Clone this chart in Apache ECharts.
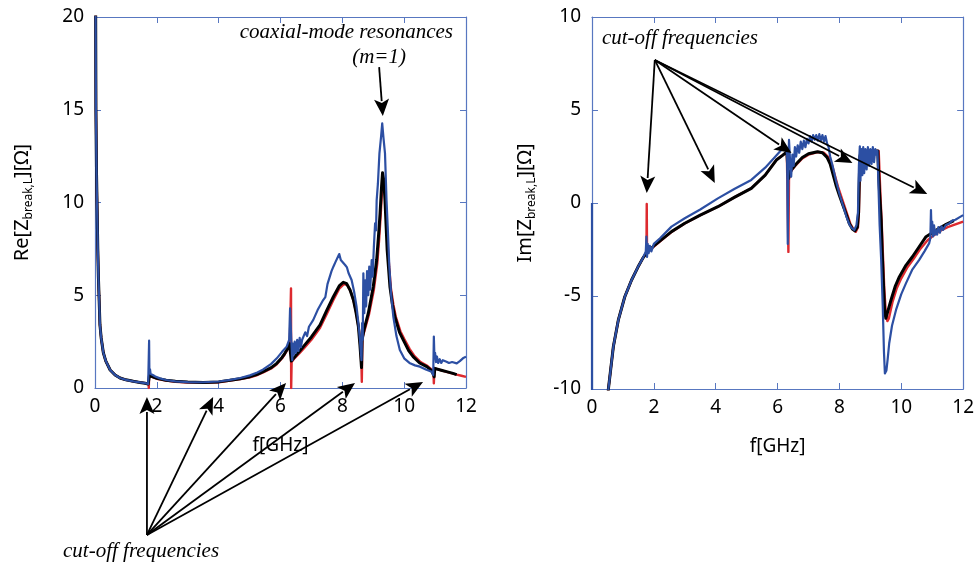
<!DOCTYPE html>
<html><head><meta charset="utf-8">
<script src="https://cdn.jsdelivr.net/npm/echarts@6/dist/echarts.min.js"></script>
<style>html,body{margin:0;padding:0;background:#fff}#c{width:977px;height:564px}</style>
</head><body><div id="c"></div>
<script>
// ---------- data ----------
const xTicks = [0, 2, 4, 6, 8, 10, 12];
const reTicks = [0, 5, 10, 15, 20];
const imTicks = [-10, -5, 0, 5, 10];

const redRe = [[0.02,21],[0.03,15],[0.05,11.5],[0.07,9.6],[0.09,7.5],[0.11,6.0],[0.16,3.4],[0.2,2.7],[0.27,1.9],[0.35,1.45],[0.49,0.97],[0.65,0.7],[0.81,0.54],[1.0,0.44],[1.24,0.36],[1.45,0.3],[1.62,0.26],[1.73,0.22],[1.74,0.0],[1.75,0.66],[1.85,0.6],[2.0,0.5],[2.3,0.4],[2.6,0.34],[3.0,0.3],[3.5,0.29],[4.0,0.31],[4.37,0.4],[4.7,0.48],[5.01,0.58],[5.25,0.7],[5.44,0.84],[5.7,1.05],[5.88,1.28],[6.05,1.6],[6.14,1.82],[6.22,2.05],[6.3,2.35],[6.33,2.4],[6.34,5.37],[6.345,0.0],[6.36,1.4],[6.45,1.6],[6.6,1.85],[6.74,2.1],[7.0,2.6],[7.28,3.25],[7.5,4.0],[7.71,4.75],[7.9,5.35],[8.05,5.6],[8.16,5.55],[8.27,5.2],[8.38,4.6],[8.46,3.95],[8.54,3.1],[8.59,2.1],[8.62,1.1],[8.63,0.34],[8.65,2.7],[8.72,3.1],[8.86,3.95],[9.02,5.3],[9.13,6.7],[9.19,8.0],[9.24,9.3],[9.29,10.8],[9.32,11.3],[9.36,11.0],[9.41,9.8],[9.48,7.3],[9.57,5.4],[9.65,4.5],[9.73,3.84],[9.88,3.05],[10.0,2.65],[10.18,2.1],[10.32,1.75],[10.53,1.4],[10.76,1.18],[10.9,0.98],[10.95,0.8],[10.96,0.25],[10.98,1.06],[11.2,0.95],[11.37,0.87],[11.55,0.79],[11.7,0.72],[11.85,0.66],[12,0.6]];

const blackRe = [[0.02,21],[0.03,15],[0.05,11.5],[0.07,9.6],[0.09,7.5],[0.11,6.0],[0.16,3.4],[0.2,2.7],[0.27,1.9],[0.35,1.45],[0.49,0.97],[0.65,0.7],[0.81,0.54],[1.0,0.44],[1.24,0.36],[1.45,0.3],[1.62,0.26],[1.72,0.22],[1.74,0.2],[1.76,0.68],[1.85,0.62],[2.0,0.52],[2.3,0.42],[2.6,0.36],[3.0,0.32],[3.5,0.3],[4.0,0.33],[4.37,0.42],[4.7,0.5],[5.01,0.61],[5.25,0.74],[5.44,0.88],[5.7,1.1],[5.88,1.33],[6.05,1.65],[6.14,1.87],[6.22,2.1],[6.29,2.41],[6.33,2.35],[6.35,1.45],[6.45,1.65],[6.6,1.95],[6.74,2.23],[7.0,2.75],[7.28,3.4],[7.5,4.2],[7.71,4.92],[7.9,5.5],[8.03,5.7],[8.14,5.62],[8.25,5.28],[8.36,4.74],[8.44,4.1],[8.52,3.3],[8.57,2.3],[8.6,1.6],[8.62,1.1],[8.64,2.6],[8.7,3.13],[8.84,4.03],[9.0,5.46],[9.11,6.9],[9.17,8.2],[9.22,9.4],[9.27,10.9],[9.3,11.6],[9.34,11.2],[9.38,10.1],[9.45,7.44],[9.54,5.46],[9.62,4.5],[9.7,3.84],[9.85,3.0],[9.97,2.59],[10.15,2.0],[10.29,1.69],[10.5,1.35],[10.73,1.15],[10.88,0.95],[10.94,0.75],[10.97,0.6],[10.99,1.06],[11.2,0.96],[11.37,0.88],[11.55,0.8],[11.7,0.72]];

const blueRe = [[0.01,21],[0.02,20],[0.03,15],[0.05,11.5],[0.07,9.6],[0.09,7.5],[0.11,6.0],[0.16,3.4],[0.2,2.7],[0.27,1.9],[0.35,1.45],[0.49,0.97],[0.65,0.7],[0.81,0.54],[1.0,0.44],[1.24,0.36],[1.45,0.3],[1.62,0.26],[1.72,0.22],[1.74,0.3],[1.75,2.55],[1.76,0.8],[1.78,1.0],[1.8,0.75],[1.83,0.85],[1.87,0.7],[1.95,0.62],[2.1,0.52],[2.3,0.43],[2.6,0.36],[3.0,0.32],[3.5,0.31],[4.0,0.35],[4.37,0.44],[4.7,0.54],[5.01,0.68],[5.25,0.84],[5.44,1.0],[5.7,1.3],[5.88,1.6],[6.05,1.95],[6.2,2.23],[6.28,2.6],[6.31,4.3],[6.34,3.0],[6.36,2.2],[6.38,1.5],[6.4,2.4],[6.43,1.8],[6.46,2.5],[6.5,1.9],[6.54,2.6],[6.58,2.0],[6.62,2.7],[6.66,2.2],[6.7,2.6],[6.74,2.59],[6.8,3.0],[6.86,2.8],[6.92,3.3],[6.98,3.2],[7.06,3.67],[7.12,3.6],[7.2,4.2],[7.26,4.1],[7.38,4.74],[7.45,4.9],[7.52,5.6],[7.58,5.5],[7.65,6.3],[7.71,6.54],[7.78,6.8],[7.83,6.7],[7.9,7.22],[7.95,6.9],[8.0,7.0],[8.09,6.63],[8.15,6.5],[8.2,6.2],[8.3,5.82],[8.38,5.2],[8.46,4.38],[8.52,3.5],[8.57,2.59],[8.6,1.9],[8.62,1.5],[8.64,3.5],[8.66,2.6],[8.68,6.18],[8.71,4.03],[8.74,5.8],[8.77,4.4],[8.8,6.3],[8.84,5.0],[8.87,6.54],[8.9,5.3],[8.95,6.9],[8.98,6.0],[9.02,7.6],[9.06,8.88],[9.09,8.5],[9.11,10.1],[9.15,11.0],[9.2,12.65],[9.25,13.5],[9.29,14.27],[9.33,13.5],[9.38,12.65],[9.43,10.1],[9.48,8.2],[9.52,6.54],[9.58,5.0],[9.65,3.84],[9.75,2.8],[9.86,2.05],[10.0,1.6],[10.19,1.33],[10.35,1.22],[10.51,1.15],[10.7,1.0],[10.89,0.88],[10.94,0.7],[10.96,2.77],[10.98,1.6],[11.0,1.9],[11.03,1.4],[11.06,1.7],[11.1,1.35],[11.15,1.55],[11.2,1.35],[11.25,1.5],[11.37,1.42],[11.45,1.35],[11.55,1.4],[11.7,1.33],[11.8,1.45],[11.9,1.6],[12,1.69]];

const redIm = [[0.5,-11],[0.53,-10],[0.69,-7.73],[0.85,-6.3],[1.06,-5.04],[1.28,-4.14],[1.49,-3.43],[1.65,-2.95],[1.76,-2.7],[1.77,-0.05],[1.78,-2.65],[2.03,-2.3],[2.3,-1.93],[2.57,-1.56],[3.0,-1.1],[3.5,-0.66],[4.07,-0.2],[4.6,0.3],[5.15,0.79],[5.6,1.5],[5.96,2.31],[6.15,2.55],[6.3,2.75],[6.35,-2.63],[6.37,1.3],[6.44,1.72],[6.6,2.05],[6.8,2.4],[7.0,2.6],[7.3,2.74],[7.5,2.7],[7.65,2.45],[7.75,2.1],[7.85,1.5],[7.95,0.9],[8.05,0.4],[8.15,-0.1],[8.25,-0.6],[8.35,-1.1],[8.45,-1.4],[8.53,-1.55],[8.6,-1.3],[8.63,-0.5],[8.67,2.5],[8.72,2.76],[8.9,2.8],[9.1,2.8],[9.27,2.8],[9.3,1.5],[9.33,0.3],[9.37,-1.2],[9.41,-2.9],[9.45,-4.6],[9.5,-5.9],[9.55,-6.35],[9.6,-6.2],[9.72,-5.3],[9.85,-4.6],[10.0,-4.05],[10.2,-3.45],[10.4,-3.0],[10.6,-2.5],[10.85,-2.0],[11.0,-1.8],[11.25,-1.5],[11.5,-1.3],[11.75,-1.15],[12,-1.0]];

const blackIm = [[0.5,-11],[0.53,-10],[0.69,-7.73],[0.85,-6.3],[1.06,-5.04],[1.28,-4.14],[1.49,-3.43],[1.65,-2.95],[1.76,-2.7],[1.8,-2.6],[2.03,-2.26],[2.3,-1.9],[2.57,-1.54],[3.0,-1.09],[3.5,-0.65],[4.07,-0.2],[4.6,0.3],[5.15,0.79],[5.6,1.5],[5.96,2.31],[6.15,2.55],[6.3,2.75],[6.35,1.3],[6.38,1.35],[6.44,1.77],[6.6,2.1],[6.8,2.45],[7.0,2.65],[7.29,2.76],[7.45,2.7],[7.6,2.45],[7.7,2.1],[7.8,1.5],[7.9,0.9],[8.0,0.4],[8.11,-0.1],[8.22,-0.6],[8.32,-1.1],[8.42,-1.4],[8.5,-1.5],[8.58,-1.3],[8.62,-0.5],[8.66,2.5],[8.7,2.76],[8.9,2.8],[9.1,2.8],[9.24,2.8],[9.27,1.5],[9.3,0.5],[9.35,-0.9],[9.38,-2.5],[9.42,-4.2],[9.46,-5.7],[9.5,-6.2],[9.54,-6.1],[9.67,-5.2],[9.8,-4.5],[9.94,-3.96],[10.15,-3.35],[10.36,-2.89],[10.6,-2.3],[10.8,-1.81],[11.0,-1.6],[11.23,-1.36],[11.45,-1.15],[11.7,-0.95]];

const blueIm = [[0,0],[0,-10.6],[0.5,-11],[0.53,-10],[0.69,-7.73],[0.85,-6.3],[1.06,-5.04],[1.28,-4.14],[1.49,-3.43],[1.65,-2.95],[1.74,-2.6],[1.76,-1.8],[1.78,-2.9],[1.8,-2.2],[1.83,-2.7],[1.87,-2.3],[1.92,-2.6],[2.0,-2.2],[2.2,-1.9],[2.57,-1.27],[3.0,-0.82],[3.5,-0.35],[4.07,0.25],[4.6,0.75],[5.15,1.24],[5.6,1.9],[5.96,2.55],[6.15,2.9],[6.28,3.0],[6.31,2.5],[6.33,-2.2],[6.35,2.2],[6.37,3.39],[6.4,2.4],[6.44,1.41],[6.48,2.6],[6.52,2.0],[6.56,3.0],[6.6,2.5],[6.65,3.1],[6.7,2.7],[6.75,3.3],[6.8,2.9],[6.85,3.35],[6.9,3.0],[6.95,3.45],[7.0,3.2],[7.05,3.6],[7.1,3.3],[7.15,3.65],[7.2,3.4],[7.25,3.65],[7.3,3.35],[7.35,3.7],[7.4,3.35],[7.45,3.65],[7.5,3.3],[7.55,3.6],[7.6,3.2],[7.65,3.0],[7.7,2.5],[7.78,2.0],[7.89,1.2],[8.0,0.5],[8.11,-0.1],[8.22,-0.7],[8.32,-1.15],[8.4,-1.35],[8.48,-1.45],[8.55,-1.2],[8.6,-0.5],[8.63,2.0],[8.66,3.05],[8.68,1.2],[8.71,2.9],[8.74,1.5],[8.77,3.0],[8.8,1.6],[8.84,2.9],[8.88,1.8],[8.92,3.0],[8.96,2.0],[9.0,2.9],[9.04,2.1],[9.08,3.0],[9.12,2.2],[9.16,2.9],[9.2,2.6],[9.23,2.8],[9.27,0.5],[9.3,-1.2],[9.35,-3.06],[9.4,-5.5],[9.44,-8.0],[9.47,-9.16],[9.52,-9.0],[9.56,-8.4],[9.61,-7.54],[9.7,-6.6],[9.83,-5.75],[10.0,-4.9],[10.15,-4.32],[10.35,-3.6],[10.58,-3.06],[10.75,-2.6],[10.9,-2.17],[10.94,-1.9],[10.96,-0.38],[10.98,-1.6],[11.0,-1.0],[11.03,-1.8],[11.06,-1.2],[11.09,-1.7],[11.12,-1.45],[11.16,-1.7],[11.2,-1.3],[11.25,-1.6],[11.3,-1.25],[11.35,-1.45],[11.44,-1.18],[11.55,-1.1],[11.65,-0.95],[11.75,-0.9],[11.85,-0.8],[12,-0.65]];

// annotation anchors in data units: [from, to]
const reArrowFrom = [1.68, -7.92];
const reArrowTips = [[1.68, -0.49], [3.82, -0.49], [6.18, 0.27], [8.41, 0.27], [10.61, 0.32]];
const reResArrow = [[9.19, 17.3], [9.31, 14.66]];
const imArrowFrom = [2.03, 7.69];
const imArrowTips = [[1.77, 0.54], [3.97, 1.08], [6.45, 2.69], [8.42, 2.15], [10.84, 0.48]];

// ---------- chart ----------
const AX = '#5877c0';
const FONT = 'Noto Sans';
const chart = echarts.init(document.getElementById('c'));

function mainX(grid) {
  return {
    type: 'value', gridIndex: grid, position: 'bottom', min: xTicks[0], max: xTicks[xTicks.length - 1], interval: 2,
    name: 'f[GHz]', nameLocation: 'middle', nameGap: 48,
    nameTextStyle: { fontFamily: FONT, fontSize: 19, color: '#000' },
    axisLine: { onZero: false, lineStyle: { color: AX, width: 1.2 } },
    axisTick: { inside: true, length: 6, lineStyle: { color: AX } },
    axisLabel: { margin: 9, fontFamily: FONT, fontSize: 19, color: '#000' },
    splitLine: { show: false }
  };
}
function topX(grid) {
  return {
    type: 'value', gridIndex: grid, position: 'top', min: xTicks[0], max: xTicks[xTicks.length - 1], interval: 2,
    axisLine: { onZero: false, lineStyle: { color: AX, width: 1.2 } },
    axisTick: { inside: true, length: 6, lineStyle: { color: AX } },
    axisLabel: { show: false }, splitLine: { show: false }
  };
}
function mainY(grid, ticks, name, gap) {
  return {
    type: 'value', gridIndex: grid, position: 'left', min: ticks[0], max: ticks[ticks.length - 1], interval: 5,
    name: name, nameLocation: 'middle', nameGap: gap, nameRotate: 90,
    nameTextStyle: {
      color: '#000',
      rich: {
        a: { fontFamily: FONT, fontSize: 20, color: '#000', lineHeight: 26, verticalAlign: 'middle' },
        b: { fontFamily: FONT, fontSize: 12, color: '#000', lineHeight: 26, verticalAlign: 'bottom' }
      }
    },
    axisLine: { onZero: false, lineStyle: { color: AX, width: 1.2 } },
    axisTick: { inside: true, length: 6, lineStyle: { color: AX } },
    axisLabel: { margin: 11, fontFamily: FONT, fontSize: 19, color: '#000' },
    splitLine: { show: false }
  };
}
function rightY(grid, ticks) {
  return {
    type: 'value', gridIndex: grid, position: 'right', min: ticks[0], max: ticks[ticks.length - 1], interval: 5,
    axisLine: { onZero: false, lineStyle: { color: AX, width: 1.2 } },
    axisTick: { inside: true, length: 6, lineStyle: { color: AX } },
    axisLabel: { show: false }, splitLine: { show: false }
  };
}
function ln(data, color, width, xi, yi, z) {
  return {
    type: 'line', data: data, xAxisIndex: xi, yAxisIndex: yi, z: z,
    symbol: 'none', showSymbol: false, clip: true, silent: true,
    lineStyle: { color: color, width: width, join: 'round' }
  };
}

const RED = '#dd2a2f', BLACK = '#000000', BLUE = '#2c4fa3';

chart.setOption({
  animation: false,
  backgroundColor: '#fff',
  grid: [
    { left: 95, top: 17, width: 371, height: 371 },
    { left: 592, top: 17, width: 372, height: 372 }
  ],
  xAxis: [mainX(0), topX(0), mainX(1), topX(1)],
  yAxis: [
    mainY(0, reTicks, '{a|Re[Z}{b|break,L}{a|][Ω]}', 60),
    rightY(0, reTicks),
    mainY(1, imTicks, '{a|Im[Z}{b|break,L}{a|][Ω]}', 54),
    rightY(1, imTicks)
  ],
  series: [
    ln(redRe, RED, 2.4, 0, 0, 2),
    ln(blackRe, BLACK, 3, 0, 0, 3),
    ln(blueRe, BLUE, 2.2, 0, 0, 4),
    ln(redIm, RED, 2.4, 2, 2, 2),
    ln(blackIm, BLACK, 3, 2, 2, 3),
    ln(blueIm, BLUE, 2.2, 2, 2, 4)
  ]
});

// ---------- annotations ----------
function px(gi, p) {
  return chart.convertToPixel({ xAxisIndex: gi === 0 ? 0 : 2, yAxisIndex: gi === 0 ? 0 : 2 }, p);
}
function arrow(a, b, out) {
  const dx = b[0] - a[0], dy = b[1] - a[1];
  const L = Math.sqrt(dx * dx + dy * dy);
  const ux = dx / L, uy = dy / L;
  const hl = 17, hw = 7.5;
  const bx = b[0] - ux * hl, by = b[1] - uy * hl;
  out.push({ type: 'line', z: 100, shape: { x1: a[0], y1: a[1], x2: bx + ux * 2, y2: by + uy * 2 }, style: { stroke: '#000', lineWidth: 1.8 } });
  out.push({ type: 'polygon', z: 100, shape: { points: [[b[0], b[1]], [bx - uy * hw, by + ux * hw], [bx + ux * 4, by + uy * 4], [bx + uy * hw, by - ux * hw]] }, style: { fill: '#000' } });
}
const g = [];
const o1 = px(0, reArrowFrom);
reArrowTips.forEach(t => arrow(o1, px(0, t), g));
arrow(px(0, reResArrow[0]), px(0, reResArrow[1]), g);
const o2 = px(1, imArrowFrom);
imArrowTips.forEach(t => arrow(o2, px(1, t), g));

const TXT = { fontFamily: 'Liberation Serif', fontStyle: 'italic', fontSize: 21, fill: '#000' };
const t1 = px(0, [11.58, 19.19]);
g.push({ type: 'text', z: 100, x: t1[0], y: t1[1], style: Object.assign({ text: 'coaxial-mode resonances', align: 'right', verticalAlign: 'middle' }, TXT) });
const t2 = px(0, [9.19, 17.84]);
g.push({ type: 'text', z: 100, x: t2[0], y: t2[1], style: Object.assign({ text: '(m=1)', align: 'center', verticalAlign: 'middle' }, TXT) });
const t3 = px(0, [1.49, -8.84]);
g.push({ type: 'text', z: 100, x: t3[0], y: t3[1], style: Object.assign({ text: 'cut-off frequencies', align: 'center', verticalAlign: 'middle' }, TXT) });
const t4 = px(1, [0.32, 8.87]);
g.push({ type: 'text', z: 100, x: t4[0], y: t4[1], style: Object.assign({ text: 'cut-off frequencies', align: 'left', verticalAlign: 'middle' }, TXT) });

chart.setOption({ graphic: g });
</script>
</body></html>
